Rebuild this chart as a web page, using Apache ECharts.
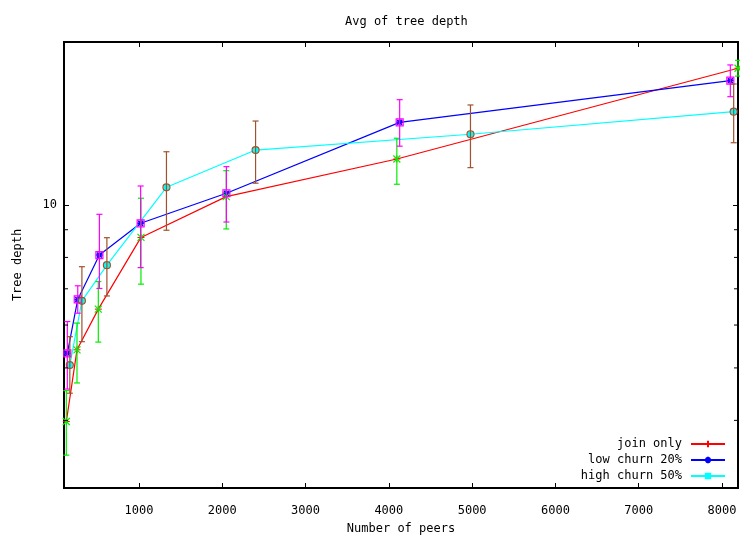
<!DOCTYPE html>
<html>
<head>
<meta charset="utf-8">
<script src="https://cdn.jsdelivr.net/npm/echarts@6/dist/echarts.min.js"></script>
<style>html,body{margin:0;padding:0;background:#fff}#c{width:740px;height:535px}</style>
</head>
<body>
<div id="c"></div>
<script>
// ---- data ----
const seriesNames = ['join only', 'low churn 20%', 'high churn 50%'];

const xJoin  = [128, 256, 512, 1024, 2048, 4096, 8192];
const yJoin  = [3.98, 5.40, 6.42, 8.71, 10.36, 12.16, 17.89];
const loJoin = [3.45, 4.69, 5.58, 7.14, 9.03, 10.92, 17.3];
const hiJoin = [4.54, 6.05, 7.22, 10.29, 11.57, 13.28, 18.5];

const xLow  = [140, 265, 525, 1020, 2050, 4130, 8100];
const yLow  = [5.32, 6.69, 8.08, 9.25, 10.51, 14.21, 16.97];
const loLow = [4.57, 6.31, 7.01, 7.66, 9.30, 12.84, 15.85];
const hiLow = [6.09, 7.09, 9.61, 10.84, 11.77, 15.65, 18.14];

const xHigh  = [170, 315, 615, 1330, 2400, 4980, 8140];
const yHigh  = [5.06, 6.65, 7.74, 10.78, 12.63, 13.51, 14.87];
const loHigh = [4.49, 5.59, 6.79, 8.98, 10.97, 11.72, 13.03];
const hiHigh = [5.71, 7.69, 8.70, 12.54, 14.29, 15.30, 16.73];

const xTickValues = [1000, 2000, 3000, 4000, 5000, 6000, 7000, 8000];
const yLabelValues = [10];
const yMinorTickValues = [4, 5, 6, 7, 8, 9];

const X_MIN = 100, X_MAX = 8192, Y_MIN = 3, Y_MAX = 20;
const FONT = 'DejaVu Sans Mono';

// ---- helpers ----
const pts = (xs, ys) => xs.map((x, i) => [x, ys[i]]);
const errData = (xs, ys, lo, hi) => xs.map((x, i) => [x, ys[i], lo[i], hi[i]]);

function errRender(color, marker) {
  return function (params, api) {
    const x = api.value(0), y = api.value(1), lo = api.value(2), hi = api.value(3);
    const p = api.coord([x, y]), pl = api.coord([x, lo]), ph = api.coord([x, hi]);
    const cw = 3, st = {stroke: color, lineWidth: 1.2, fill: null};
    const ch = [
      {type: 'line', shape: {x1: pl[0], y1: pl[1], x2: ph[0], y2: ph[1]}, style: st},
      {type: 'line', shape: {x1: pl[0] - cw, y1: pl[1], x2: pl[0] + cw, y2: pl[1]}, style: st},
      {type: 'line', shape: {x1: ph[0] - cw, y1: ph[1], x2: ph[0] + cw, y2: ph[1]}, style: st}
    ];
    const s = 3.5;
    if (marker === 'x') {
      ch.push({type: 'line', shape: {x1: p[0] - s, y1: p[1] - s, x2: p[0] + s, y2: p[1] + s}, style: st});
      ch.push({type: 'line', shape: {x1: p[0] - s, y1: p[1] + s, x2: p[0] + s, y2: p[1] - s}, style: st});
    } else if (marker === 'box') {
      ch.push({type: 'rect', shape: {x: p[0] - s, y: p[1] - s, width: 2 * s, height: 2 * s}, style: {stroke: color, lineWidth: 1.2, fill: 'none'}});
    } else {
      ch.push({type: 'circle', shape: {cx: p[0], cy: p[1], r: s}, style: {stroke: color, lineWidth: 1.2, fill: 'none'}});
    }
    return {type: 'group', children: ch};
  };
}

function minorTickRender(params, api) {
  const v = api.value(1);
  const pl = api.coord([X_MIN, v]);
  const pr = api.coord([X_MAX, v]);
  const st = {stroke: '#000', lineWidth: 1};
  return {type: 'group', children: [
    {type: 'line', shape: {x1: pl[0], y1: pl[1], x2: pl[0] + 4, y2: pl[1]}, style: st},
    {type: 'line', shape: {x1: pr[0], y1: pr[1], x2: pr[0] - 4, y2: pr[1]}, style: st}
  ]};
}

const plusPath = 'path://M5,0L5,10M0,5L10,5';
const starPath = 'path://M5,0L5,10M0,5L10,5M1.5,1.5L8.5,8.5M8.5,1.5L1.5,8.5';

const chart = echarts.init(document.getElementById('c'), null, {renderer: 'canvas'});
const baseX = {
  type: 'value', min: X_MIN, max: X_MAX,
  axisLine: {show: false},
  splitLine: {show: false},
  axisTick: {inside: true, length: 5, customValues: xTickValues, lineStyle: {color: '#000'}},
};
const baseY = {
  type: 'log', logBase: 10, min: Y_MIN, max: Y_MAX,
  axisLine: {show: false},
  splitLine: {show: false},
  axisTick: {inside: true, length: 5, lineStyle: {color: '#000'}},
};

chart.setOption({
  animation: false,
  backgroundColor: '#fff',
  title: {
    text: 'Avg of tree depth', left: 340, top: 11,
    textStyle: {fontFamily: FONT, fontSize: 12, fontWeight: 'normal', color: '#000'}
  },
  grid: {left: 64, right: 2, top: 42, bottom: 47, show: true, borderColor: '#000', borderWidth: 2,
         backgroundColor: 'transparent', containLabel: false, outerBoundsMode: 'none'},
  xAxis: [
    Object.assign({}, baseX, {
      position: 'bottom',
      name: 'Number of peers', nameLocation: 'middle', nameGap: 35,
      nameTextStyle: {fontFamily: FONT, fontSize: 12, color: '#000'},
      axisLabel: {customValues: xTickValues, margin: 17, fontFamily: FONT, fontSize: 12, color: '#000',
                  formatter: v => String(v)}
    }),
    Object.assign({}, baseX, {position: 'top', axisLabel: {show: false}})
  ],
  yAxis: [
    Object.assign({}, baseY, {
      position: 'left',
      name: 'Tree depth', nameLocation: 'middle', nameGap: 40, nameRotate: 90,
      nameTextStyle: {fontFamily: FONT, fontSize: 12, color: '#000'},
      axisLabel: {
        margin: 7, fontFamily: FONT, fontSize: 12, color: '#000',
        formatter: v => yLabelValues.some(t => Math.abs(t - v) < 1e-6) ? String(Math.round(v)) : ''
      }
    }),
    Object.assign({}, baseY, {position: 'right', axisLabel: {show: false}})
  ],
  legend: seriesNames.map((n, i) => ({
    data: [n], right: 14, top: 438 + i * 16, padding: 0, align: 'right',
    itemWidth: 34, itemHeight: 8, itemGap: 0,
    textStyle: {fontFamily: FONT, fontSize: 12, color: '#000', padding: [0, 4, 0, 0]}
  })),
  series: [
    {
      name: seriesNames[0], type: 'line', data: pts(xJoin, yJoin),
      xAxisIndex: 0, yAxisIndex: 0, z: 2,
      symbol: plusPath, symbolSize: 7, showAllSymbol: true,
      lineStyle: {color: '#ff0000', width: 1.2},
      itemStyle: {color: '#ff0000', borderColor: '#ff0000', borderWidth: 1}
    },
    {
      name: seriesNames[1], type: 'line', data: pts(xLow, yLow),
      xAxisIndex: 0, yAxisIndex: 0, z: 2,
      symbol: starPath, symbolSize: 7, showAllSymbol: true,
      lineStyle: {color: '#0000ff', width: 1.2},
      itemStyle: {color: '#0000ff', borderColor: '#0000ff', borderWidth: 1.5}
    },
    {
      name: seriesNames[2], type: 'line', data: pts(xHigh, yHigh),
      xAxisIndex: 0, yAxisIndex: 0, z: 2,
      symbol: 'rect', symbolSize: 6, showAllSymbol: true,
      lineStyle: {color: '#00ffff', width: 1.2},
      itemStyle: {color: '#00ffff', borderWidth: 0}
    },
    {
      name: 'err join', type: 'custom', z: 3, xAxisIndex: 0, yAxisIndex: 0,
      data: errData(xJoin, yJoin, loJoin, hiJoin), renderItem: errRender('#00ee00', 'x'),
      encode: {x: 0, y: [1, 2, 3]}
    },
    {
      name: 'err low', type: 'custom', z: 3, xAxisIndex: 0, yAxisIndex: 0,
      data: errData(xLow, yLow, loLow, hiLow), renderItem: errRender('#ff00ff', 'box'),
      encode: {x: 0, y: [1, 2, 3]}
    },
    {
      name: 'err high', type: 'custom', z: 3, xAxisIndex: 0, yAxisIndex: 0,
      data: errData(xHigh, yHigh, loHigh, hiHigh), renderItem: errRender('#a0522d', 'circle'),
      encode: {x: 0, y: [1, 2, 3]}
    },
    {
      name: 'minor ticks', type: 'custom', z: 4, xAxisIndex: 0, yAxisIndex: 0,
      data: yMinorTickValues.map(v => [X_MIN, v]), renderItem: minorTickRender,
      silent: true
    }
  ]
});
</script>
</body>
</html>
